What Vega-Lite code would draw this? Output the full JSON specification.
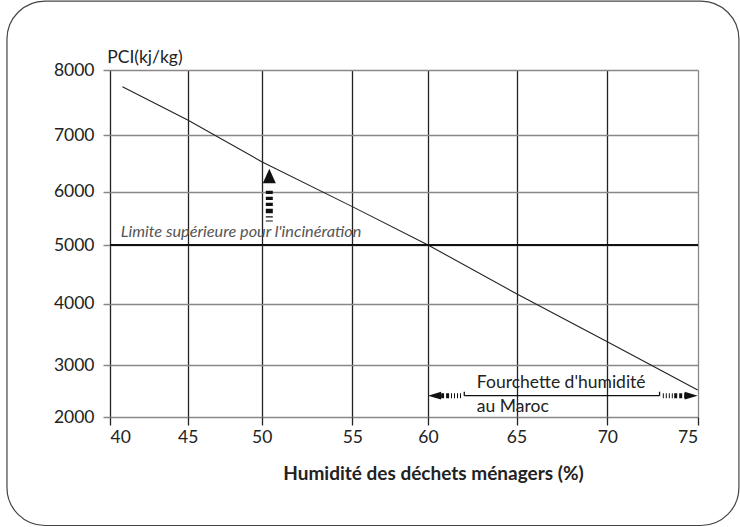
{
  "$schema": "https://vega.github.io/schema/vega-lite/v6.json",
  "width": 588,
  "height": 347,
  "autosize": {"type": "none"},
  "padding": {"left": 110, "top": 70, "right": 42, "bottom": 110},
  "background": "white",
  "config": {
    "font": "Lato",
    "view": {"stroke": null},
    "axis": {"labelFont": "Lato", "titleFont": "Lato", "labelColor": "#222", "titleColor": "#222"}
  },
  "layer": [
    {
      "data": {"values": [
        {"h": 40.8, "pci": 7743},
        {"h": 45, "pci": 7230},
        {"h": 50, "pci": 6530},
        {"h": 55, "pci": 5720},
        {"h": 60, "pci": 5000},
        {"h": 65, "pci": 4170},
        {"h": 70, "pci": 3380},
        {"h": 75, "pci": 2522}
      ]},
      "mark": {"type": "line", "color": "#222", "strokeWidth": 1.1},
      "encoding": {
        "x": {
          "field": "h", "type": "quantitative",
          "scale": {"domain": [40, 45, 50, 55, 60, 65, 70, 75], "range": [0, 77.7, 151.7, 242.3, 318, 406.5, 497.3, 587.7], "nice": false, "zero": false},
          "axis": {
            "values": [40, 45, 50, 55, 60, 65, 70, 75],
            "format": "d",
            "title": "Humidité des déchets ménagers (%)",
            "titleFontSize": 19, "titleFontWeight": "bold",
            "titleX": 323, "titleY": 62, "titleAlign": "center", "titleBaseline": "alphabetic",
            "grid": true,
            "gridColor": {"condition": {"test": "datum.value === 75", "value": "#888"}, "value": "#222"},
            "gridWidth": 1.3, "gridOpacity": 1,
            "domain": false,
            "tickColor": "#222", "tickSize": 8, "tickWidth": 1.3,
            "labelFontSize": 17.5, "labelPadding": 3
          }
        },
        "y": {
          "field": "pci", "type": "quantitative",
          "scale": {"domain": [2000, 3000, 4000, 5000, 6000, 7000, 8000], "range": [347.3, 295, 233.7, 175, 121.7, 65, 0], "nice": false, "zero": false},
          "axis": {
            "values": [2000, 3000, 4000, 5000, 6000, 7000, 8000],
            "format": "d",
            "title": "PCI(kj/kg)",
            "titleFontSize": 17.5, "titleFontWeight": "normal",
            "titleAngle": 0, "titleAlign": "left", "titleBaseline": "alphabetic",
            "titleX": -3.3, "titleY": -7.3,
            "grid": true, "gridColor": "#888", "gridWidth": 1.5, "gridOpacity": 1,
            "domain": false,
            "tickColor": "#888", "tickSize": 7, "tickWidth": 1.5,
            "labelFontSize": 17.5, "labelPadding": 9
          }
        }
      }
    },
    {
      "data": {"values": [{}]},
      "mark": {"type": "rule", "color": "#111", "strokeWidth": 2},
      "encoding": {"y": {"datum": 5000}}
    },
    {
      "data": {"values": [{}]},
      "mark": {"type": "rect", "fill": null, "fillOpacity": 0, "stroke": "#444", "strokeWidth": 1.2, "cornerRadius": 38},
      "encoding": {
        "x": {"datum": 33.37}, "x2": {"datum": 77.28},
        "y": {"datum": 9060}, "y2": {"datum": -69}
      }
    },
    {
      "data": {"values": [{}]},
      "mark": {"type": "point", "shape": "M0,-1.1L1,1.1L-1,1.1Z", "size": 169, "filled": true, "color": "#111", "opacity": 1},
      "encoding": {"x": {"datum": 50.42}, "y": {"datum": 6277}}
    },
    {
      "data": {"values": [{}]},
      "mark": {"type": "rule", "color": "#111", "strokeWidth": 7, "strokeDash": [3.3, 2.7]},
      "encoding": {"x": {"datum": 50.42}, "y": {"datum": 6018}, "y2": {"datum": 5619}}
    },
    {
      "data": {"values": [{}]},
      "mark": {"type": "rule", "color": "#111", "strokeWidth": 7, "strokeDash": [1.2, 3]},
      "encoding": {"x": {"datum": 50.42}, "y": {"datum": 5619}, "y2": {"datum": 5413}}
    },
    {
      "data": {"values": [{}]},
      "mark": {"type": "point", "shape": "M-1,0L1,-0.6L1,0.6Z", "size": 169, "filled": true, "color": "#111", "opacity": 1},
      "encoding": {"x": {"datum": 60.37}, "y": {"datum": 2413}}
    },
    {
      "data": {"values": [{}]},
      "mark": {"type": "rule", "color": "#111", "strokeWidth": 5, "strokeDash": [3, 2]},
      "encoding": {"x": {"datum": 60.74}, "x2": {"datum": 61.3}, "y": {"datum": 2413}}
    },
    {
      "data": {"values": [{}]},
      "mark": {"type": "rule", "color": "#111", "strokeWidth": 5, "strokeDash": [1, 2]},
      "encoding": {"x": {"datum": 61.3}, "x2": {"datum": 61.9}, "y": {"datum": 2413}}
    },
    {
      "data": {"values": [{}]},
      "mark": {"type": "rule", "color": "#111", "strokeWidth": 1.3},
      "encoding": {"x": {"datum": 62.05}, "x2": {"datum": 72.89}, "y": {"datum": 2413}}
    },
    {
      "data": {"values": [{}]},
      "mark": {"type": "rule", "color": "#111", "strokeWidth": 1.3},
      "encoding": {"x": {"datum": 62.05}, "y": {"datum": 2413}, "y2": {"datum": 2489}}
    },
    {
      "data": {"values": [{}]},
      "mark": {"type": "rule", "color": "#111", "strokeWidth": 1.3},
      "encoding": {"x": {"datum": 72.89}, "y": {"datum": 2413}, "y2": {"datum": 2489}}
    },
    {
      "data": {"values": [{}]},
      "mark": {"type": "rule", "color": "#111", "strokeWidth": 5, "strokeDash": [1, 2]},
      "encoding": {"x": {"datum": 73.07}, "x2": {"datum": 73.7}, "y": {"datum": 2413}}
    },
    {
      "data": {"values": [{}]},
      "mark": {"type": "rule", "color": "#111", "strokeWidth": 5, "strokeDash": [3, 2]},
      "encoding": {"x": {"datum": 73.7}, "x2": {"datum": 74.3}, "y": {"datum": 2413}}
    },
    {
      "data": {"values": [{}]},
      "mark": {"type": "point", "shape": "M1,0L-1,-0.6L-1,0.6Z", "size": 169, "filled": true, "color": "#111", "opacity": 1},
      "encoding": {"x": {"datum": 74.64}, "y": {"datum": 2413}}
    },
    {
      "data": {"values": [{}]},
      "mark": {"type": "text", "text": "Limite supérieure pour l'incinération", "font": "Lato", "fontSize": 16.3, "fontStyle": "italic", "color": "#555", "align": "left", "baseline": "alphabetic"},
      "encoding": {"x": {"datum": 40.69}, "y": {"datum": 5156}}
    },
    {
      "data": {"values": [{}]},
      "mark": {"type": "text", "text": "Fourchette d'humidité", "font": "Lato", "fontSize": 17.5, "color": "#222", "align": "left", "baseline": "alphabetic"},
      "encoding": {"x": {"datum": 62.76}, "y": {"datum": 2560}}
    },
    {
      "data": {"values": [{}]},
      "mark": {"type": "text", "text": "au Maroc", "font": "Lato", "fontSize": 17.5, "color": "#222", "align": "left", "baseline": "alphabetic"},
      "encoding": {"x": {"datum": 62.76}, "y": {"datum": 2107}}
    }
  ]
}
